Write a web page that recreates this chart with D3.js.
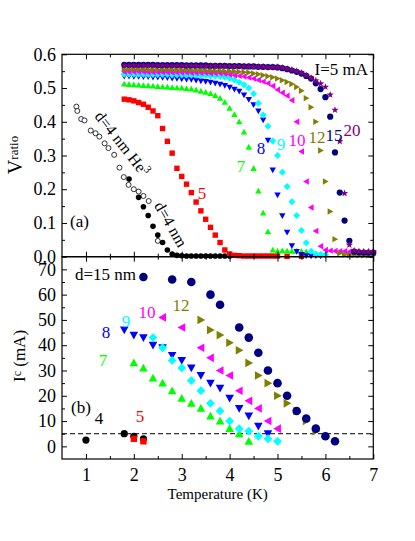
<!doctype html>
<html>
<head>
<meta charset="utf-8">
<script src="https://cdnjs.cloudflare.com/ajax/libs/d3/7.8.5/d3.min.js"></script>
<style>
  body { margin: 0; background: #fff; }
  svg text { font-family: "Liberation Serif", "Times New Roman", serif; }
</style>
<title>Vratio and Ic vs temperature</title>
</head>
<body>
<div id="chart-area"></div>
<script>
// ---- tick values ----
var tempTicks = [1, 2, 3, 4, 5, 6, 7];
var tempMinor = [1.5, 2.5, 3.5, 4.5, 5.5, 6.5];
var vTicks = [0, 0.1, 0.2, 0.3, 0.4, 0.5, 0.6];
var vMinor = [0.05, 0.15, 0.25, 0.35, 0.45, 0.55];
var icTicks = [0, 10, 20, 30, 40, 50, 60, 70];
var icMinor = [5, 15, 25, 35, 45, 55, 65];

// ---- panel (a): V_ratio vs T ----
// shared temperature grid for thickness 5..20 nm
var tTop = [1.8, 1.9, 2.0, 2.1, 2.2, 2.3, 2.4, 2.5, 2.6, 2.7, 2.8, 2.9, 3.0, 3.1, 3.2, 3.3, 3.4, 3.5,
            3.6, 3.7, 3.8, 3.9, 4.0, 4.1, 4.2, 4.3, 4.4, 4.5, 4.6, 4.7, 4.8, 4.9, 5.0, 5.1, 5.2, 5.3,
            5.4, 5.5, 5.6, 5.7, 5.8, 5.9, 6.0, 6.1, 6.2, 6.3, 6.4, 6.5, 6.6, 6.7, 6.8, 6.9, 7.0];

var v5  = [.467,.465,.462,.457,.452,.443,.432,.418,.380,.342,.307,.262,.238,.215,.190,.162,.136,.111,
           .087,.064,.042,.020,.008,.004,.003,.002,.002,.002,.002,.002,.002,.002,.002,null,.001,null,
           null,.001,null,null,null,null,null,null,null,null,null,null,null,null,null,null,null];
var v7  = [.512,.511,.510,.509,.508,.507,.506,.505,.504,.503,.502,.501,.500,.499,.497,.494,.491,.488,
           .484,.478,.470,.458,.440,.422,.400,.370,.325,.262,.195,.130,.074,.020,.017,.018,.017,.016,
           .017,.016,.015,null,null,null,null,null,null,null,null,null,null,null,null,null,null];
var v8  = [.535,.535,.534,.534,.533,.533,.532,.532,.531,.530,.529,.528,.527,.526,.525,.523,.521,.519,
           .517,.514,.511,.507,.502,.496,.490,.479,.466,.450,.432,.405,.345,.257,.183,.121,.072,.032,
           .015,.006,.003,.002,.003,.002,null,null,null,null,null,null,null,null,null,null,null];
var v9  = [.541,.541,.541,.541,.541,.540,.540,.540,.540,.540,.539,.539,.539,.538,.538,.538,.537,.537,
           .536,.535,.534,.532,.529,.524,.517,.510,.500,.483,.455,.420,.387,.343,.300,.250,.208,.163,
           .122,.078,.041,.016,.009,.007,.006,null,null,null,null,null,null,null,null,null,null];
var v10 = [.548,.548,.548,.548,.548,.547,.547,.547,.547,.547,.546,.546,.546,.546,.545,.545,.545,.545,
           .544,.544,.544,.542,.540,.538,.536,.534,.531,.528,.524,.519,.514,.506,.495,.486,.477,.464,
           .400,.312,.223,.146,.076,.031,.020,.018,.017,.016,.016,.015,null,null,null,null,null];
var v12 = [.556,.556,.556,.556,.556,.555,.555,.555,.555,.555,.554,.554,.554,.554,.553,.553,.553,.552,
           .552,.551,.551,.550,.550,.549,.548,.547,.546,.543,.541,.538,.535,.532,.528,.523,.518,.512,
           .503,.492,.470,.443,.400,.315,.223,.134,.052,.010,.006,.005,.005,.004,.004,.004,.004];
var v15 = [.569,.569,.569,.569,.569,.569,.569,.568,.568,.568,.568,.568,.568,.567,.567,.567,.567,.567,
           .566,.566,.566,.566,.565,.565,.565,.564,.564,.564,.563,.563,.562,.562,.561,.559,.556,.552,
           .548,.543,.536,.528,.514,.497,.473,.415,.309,.190,.107,.047,.015,.013,.012,.012,.012];
var v20 = [.567,.567,.567,.567,.567,.567,.567,.567,.567,.566,.566,.566,.566,.566,.566,.566,.565,.565,
           .565,.565,.565,.565,.564,.564,.564,.564,.563,.563,.563,.563,.562,.562,.562,.560,.557,.554,
           .550,.545,.538,.530,.522,.513,.503,.480,.435,.342,.188,.035,.018,.016,.015,.015,.015];

// d = 4 nm (filled) and d = 4 nm He3 (open)
var t4  = [1.9, 2.1, 2.2, 2.3, 2.4, 2.5, 2.6, 2.7, 2.8, 2.9, 3.0, 3.1, 3.2, 3.3, 3.4, 3.5, 3.6, 3.7, 3.8, 3.9, 4.0];
var v4  = [.230,.176,.148,.122,.090,.064,.042,.020,.008,.004,.003,.002,.002,.002,.002,.002,.002,.002,.002,.002,.002];
var t4He = [0.80, 0.82, 0.90, 0.97, 1.10, 1.20, 1.28, 1.39, 1.47, 1.59, 1.70, 1.79, 1.89, 2.00, 2.10, 2.20, 2.31, 2.50];
var v4He = [.445,.432,.408,.404,.374,.366,.356,.336,.322,.302,.264,.236,.213,.200,.193,.180,.165,.047];

// ---- panel (b): Ic vs T ----
var icT4 = [1.0, 1.8, 2.0, 2.2];          var ic4 = [2.5, 5, 4, 3];
var icT5 = [2.0, 2.2];                    var ic5 = [3, 2];
var icT7 = [2.0, 2.2, 2.4, 2.6, 2.8, 3.0, 3.2, 3.4, 3.6, 3.8, 4.0, 4.2, 4.4];
var ic7  = [33, 31, 27, 25, 22, 19, 17, 15, 12, 10, 7, 5, 2];
var icT8 = [1.8, 2.0, 2.2, 2.4, 2.6, 2.8, 3.0, 3.2, 3.4, 3.6, 3.8, 4.0, 4.2, 4.4, 4.6, 4.8];
var ic8  = [46, 44, 43, 40, 39, 36, 34, 31, 28, 25, 23, 19, 15, 12, 8, 5];
var icT9 = [2.4, 2.6, 2.8, 3.0, 3.2, 3.4, 3.6, 3.8, 4.0, 4.2, 4.4, 4.6, 4.8, 5.0];
var ic9  = [43, 39, 34, 31, 26, 22, 17, 14, 10, 7, 6, 4, 3, 2];
var icT10 = [2.6, 3.0, 3.4, 3.6, 3.8, 4.0, 4.2, 4.4, 4.6, 4.8, 5.0];
var ic10  = [51, 47, 39, 35, 30, 28, 22, 18, 15, 10, 7];
var icT12 = [3.4, 3.6, 3.8, 4.0, 4.2, 4.4, 4.6, 4.8, 5.0, 5.2, 5.4, 5.6, 5.8];
var ic12  = [50, 46, 44, 41, 38, 33, 28, 25, 20, 17, 14, 10, 6];
var icT15 = [2.2, 2.8, 3.2, 3.6, 3.8, 4.2, 4.4, 4.6, 4.8, 5.0, 5.2, 5.4, 5.6, 5.8, 6.0, 6.2];
var ic15  = [67, 66, 65, 60, 56, 47, 43, 37, 30, 25, 20, 14, 11, 7, 4, 2];
var icLimit = 5;

// ---- drawing ----
var width = 415, height = 541;
var plotLeft = 62, plotRight = 373.3, plotTop = 54.3, plotMid = 256.7, plotBottom = 459;
var serif = "'Liberation Serif', 'Times New Roman', serif";

var svg = d3.select("#chart-area").append("svg")
  .attr("width", width)
  .attr("height", height)
  .attr("font-family", serif);

var x = d3.scaleLinear().domain([0.5, 7]).range([plotLeft, plotRight]);
var yTop = d3.scaleLinear().domain([0, 0.6]).range([plotMid, plotTop]);
var yBot = d3.scaleLinear().domain([-5, 75]).range([plotBottom, plotMid]);

// marker shapes (size = full width in px)
var shapes = {
  circle: { draw: function(c, s) { var r = s / 2; c.moveTo(r, 0); c.arc(0, 0, r, 0, 2 * Math.PI); } },
  square: { draw: function(c, s) { var r = s / 2; c.rect(-r, -r, s, s); } },
  up:     { draw: function(c, s) { var r = s / 2; c.moveTo(0, -r); c.lineTo(r, r * 0.8); c.lineTo(-r, r * 0.8); c.closePath(); } },
  down:   { draw: function(c, s) { var r = s / 2; c.moveTo(0, r); c.lineTo(r, -r * 0.8); c.lineTo(-r, -r * 0.8); c.closePath(); } },
  leftT:  { draw: function(c, s) { var r = s / 2; c.moveTo(-r, 0); c.lineTo(r * 0.8, -r); c.lineTo(r * 0.8, r); c.closePath(); } },
  rightT: { draw: function(c, s) { var r = s / 2; c.moveTo(r, 0); c.lineTo(-r * 0.8, -r); c.lineTo(-r * 0.8, r); c.closePath(); } },
  diamond:{ draw: function(c, s) { var r = s / 2; c.moveTo(0, -r); c.lineTo(r, 0); c.lineTo(0, r); c.lineTo(-r, 0); c.closePath(); } },
  star:   { draw: function(c, s) {
    var R = s / 2, ri = R * 0.42;
    for (var k = 0; k < 10; k++) {
      var a = -Math.PI / 2 + k * Math.PI / 5, rr = k % 2 ? ri : R;
      if (k === 0) c.moveTo(rr * Math.cos(a), rr * Math.sin(a)); else c.lineTo(rr * Math.cos(a), rr * Math.sin(a));
    }
    c.closePath();
  } }
};

function plotSeries(ts, vs, yScale, shape, size, color, open) {
  var pts = ts.map(function(t, i) { return { t: t, v: vs[i] }; })
    .filter(function(d) { return d.v !== null; });
  var sym = d3.symbol().type(shapes[shape]).size(size);
  svg.append("g").selectAll("path").data(pts).enter().append("path")
    .attr("transform", function(d) { return "translate(" + x(d.t) + "," + yScale(d.v) + ")"; })
    .attr("d", sym)
    .attr("fill", open ? "#fff" : color)
    .attr("stroke", open ? color : "none")
    .attr("stroke-width", open ? 0.8 : 0);
}

// panel (a) markers
plotSeries(t4He, v4He, yTop, "circle", 5, "#000", true);
plotSeries(t4, v4, yTop, "circle", 5.6, "#000");
plotSeries(tTop, v5, yTop, "square", 5.4, "#ff0000");
plotSeries(tTop, v7, yTop, "up", 6.4, "#00ff00");
plotSeries(tTop, v8, yTop, "down", 6.4, "#0000ff");
plotSeries(tTop, v9, yTop, "diamond", 7, "#00ffff");
plotSeries(tTop, v10, yTop, "leftT", 6.4, "#ff00ff");
plotSeries(tTop, v12, yTop, "rightT", 6.4, "#808000");
plotSeries(tTop, v15, yTop, "circle", 6.2, "#000080");
plotSeries(tTop, v20, yTop, "star", 7.6, "#800080");

// panel (b) dashed I = 5 mA line
svg.append("line")
  .attr("x1", x(0.5)).attr("x2", x(7))
  .attr("y1", yBot(icLimit)).attr("y2", yBot(icLimit))
  .attr("stroke", "#000").attr("stroke-width", 1)
  .attr("stroke-dasharray", "5,3");

// panel (b) markers
plotSeries(icT4, ic4, yBot, "circle", 7.2, "#000");
plotSeries(icT5, ic5, yBot, "square", 6.4, "#ff0000");
plotSeries(icT7, ic7, yBot, "up", 8.6, "#00ff00");
plotSeries(icT8, ic8, yBot, "down", 8.6, "#0000ff");
plotSeries(icT9, ic9, yBot, "diamond", 8.8, "#00ffff");
plotSeries(icT10, ic10, yBot, "leftT", 8.6, "#ff00ff");
plotSeries(icT12, ic12, yBot, "rightT", 8.6, "#808000");
plotSeries(icT15, ic15, yBot, "circle", 8.6, "#000080");

// ---- axes ----
// makeGen returns a fresh axis generator each time
function axis(makeGen, tx, ty, major, minor, fmt, pad) {
  var g = svg.append("g").attr("transform", "translate(" + tx + "," + ty + ")");
  g.call(makeGen().tickValues(major).tickSize(-5).tickPadding(pad || 6).tickFormat(fmt || ""));
  g.append("g").call(makeGen().tickValues(minor).tickSize(-3).tickFormat(""));
  g.selectAll(".domain").remove();
  g.selectAll("line").attr("stroke", "#000").attr("stroke-width", 1);
  g.selectAll("g").attr("font-family", serif).attr("font-size", null);
  g.attr("font-family", serif).attr("font-size", null);
  g.selectAll("text").attr("font-size", "18px").attr("fill", "#000");
  return g;
}

var fmtV = d3.format(".1f");
// panel (a)
axis(function() { return d3.axisLeft(yTop); }, plotLeft, 0, vTicks, vMinor, fmtV);
axis(function() { return d3.axisRight(yTop); }, plotRight, 0, vTicks, vMinor);
axis(function() { return d3.axisTop(x); }, 0, plotTop, tempTicks, tempMinor);
axis(function() { return d3.axisBottom(x); }, 0, plotMid, tempTicks, tempMinor);
// panel (b)
axis(function() { return d3.axisLeft(yBot); }, plotLeft, 0, icTicks, icMinor, d3.format("d"));
axis(function() { return d3.axisRight(yBot); }, plotRight, 0, icTicks, icMinor);
axis(function() { return d3.axisTop(x); }, 0, plotMid, tempTicks, tempMinor);
axis(function() { return d3.axisBottom(x); }, 0, plotBottom, tempTicks, tempMinor, d3.format("d"), 9);

// frames
svg.append("rect").attr("x", plotLeft).attr("y", plotTop)
  .attr("width", plotRight - plotLeft).attr("height", plotMid - plotTop)
  .attr("fill", "none").attr("stroke", "#000").attr("stroke-width", 1.2);
svg.append("rect").attr("x", plotLeft).attr("y", plotMid)
  .attr("width", plotRight - plotLeft).attr("height", plotBottom - plotMid)
  .attr("fill", "none").attr("stroke", "#000").attr("stroke-width", 1.2);

// ---- labels ----
function label(px, py, txt, color, size, anchor) {
  return svg.append("text").attr("x", px).attr("y", py)
    .attr("text-anchor", anchor || "middle")
    .attr("font-size", (size || 17) + "px")
    .attr("fill", color || "#000")
    .text(txt);
}

// axis titles
label((plotLeft + plotRight) / 2, 499, "Temperature (K)", "#000", 15);

var vt = svg.append("text").attr("transform", "translate(22,155) rotate(-90)")
  .attr("text-anchor", "middle").attr("font-size", "20px");
vt.append("tspan").text("V");
vt.append("tspan").attr("font-size", "13px").attr("dy", -4).text("ratio");

var it = svg.append("text").attr("transform", "translate(25,356) rotate(-90)")
  .attr("text-anchor", "middle").attr("font-size", "17px");
it.append("tspan").text("I");
it.append("tspan").attr("font-size", "12px").attr("dy", -4).text("c");
it.append("tspan").attr("dy", 4).text(" (mA)");

// panel (a) annotations
label(368, 75, "I=5 mA", "#000", 17, "end");
label(70, 227, "(a)", "#000", 17, "start");
label(202, 199, "5", "#ff0000");
label(241, 172, "7", "#00ff00");
label(261, 154, "8", "#0000ff");
label(281, 150, "9", "#00ffff");
label(297, 146, "10", "#ff00ff");
label(317, 143, "12", "#808000");
label(334, 141, "15", "#000080");
label(352, 136, "20", "#800080");

var he = svg.append("text").attr("transform", "translate(118,147) rotate(52)")
  .attr("text-anchor", "middle").attr("font-size", "16px");
he.append("tspan").text("d=4 nm He");
he.append("tspan").attr("font-size", "11px").attr("dy", -6).text("3");

svg.append("text").attr("transform", "translate(166,227) rotate(60)")
  .attr("text-anchor", "middle").attr("font-size", "16px").text("d=4 nm");

// panel (b) annotations
label(75, 280, "d=15 nm", "#000", 17, "start");
label(71, 413, "(b)", "#000", 17, "start");
label(99, 424, "4", "#000");
label(140, 422, "5", "#ff0000");
label(103, 366, "7", "#00ff00");
label(106, 338, "8", "#0000ff");
label(126, 327, "9", "#00ffff");
label(147, 318, "10", "#ff00ff");
label(181, 311, "12", "#808000");
</script>
</body>
</html>
